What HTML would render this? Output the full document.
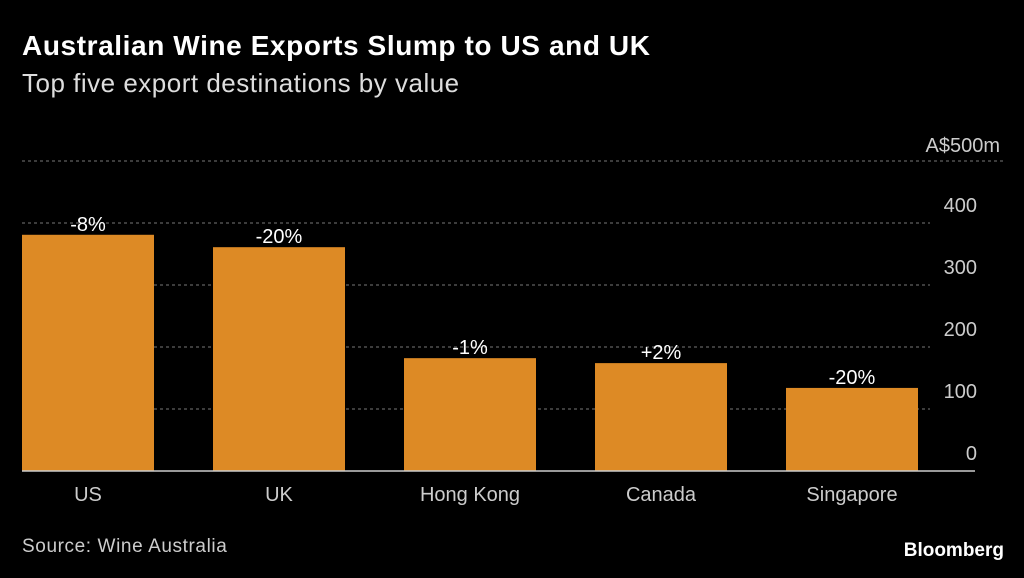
<!DOCTYPE html>
<html><head><meta charset="utf-8"><style>
body{margin:0;background:#000;width:1024px;height:578px;overflow:hidden;font-family:"Liberation Sans",sans-serif;color:#fff}
.t{position:absolute;left:22px;top:30px;font-size:28px;font-weight:bold;letter-spacing:0.6px}
.s{position:absolute;left:22px;top:68px;font-size:26px;color:#ddd;letter-spacing:0.5px}
.src{position:absolute;left:22px;top:536px;font-size:19px;color:#ccc;letter-spacing:0.6px}
.bb{position:absolute;right:20px;top:540px;font-size:19px;font-weight:bold}
</style></head><body>
<div class="t">Australian Wine Exports Slump to US and UK</div>
<div class="s">Top five export destinations by value</div>
<svg id="c" width="1024" height="578" style="position:absolute;left:0;top:0"></svg>
<div class="src">Source: Wine Australia</div>
<div class="bb">Bloomberg</div>
<script>
const categories=["US","UK","Hong Kong","Canada","Singapore"];
const values=[381,361,182,174,134];
const changes=["-8%","-20%","-1%","+2%","-20%"];
const ticks=[0,100,200,300,400,500];
const tickLabels=["0","100","200","300","400","A$500m"];
const svg=document.getElementById('c');
const NS="http://www.w3.org/2000/svg";
const y=v=>471-v*0.62;
const x=i=>22+i*191;
const bw=132;
function mk(t,a){const e=document.createElementNS(NS,t);for(const k in a)e.setAttribute(k,a[k]);svg.appendChild(e);return e;}
ticks.forEach((t,i)=>{
  if(t>0){const l=mk('line',{x1:22,x2:i==ticks.length-1?1003:930,y1:y(t),y2:y(t),stroke:'#777','stroke-dasharray':'3,3','stroke-width':1});
  
  }
  const tx=mk('text',{x:i==ticks.length-1?1000:977,y:i==ticks.length-1?y(t)-9:y(t)-11,'text-anchor':'end',fill:'#ccc','font-size':20,'font-family':'Liberation Sans'});
  tx.textContent=tickLabels[i];
  
  
});
values.forEach((v,i)=>{
  const r=mk('rect',{x:x(i),y:y(v),width:bw,height:471-y(v),fill:'#dd8a25'});
  
  
  const lb=mk('text',{x:x(i)+bw/2,y:y(v)-4,'text-anchor':'middle',fill:'#fff','font-size':20,'font-family':'Liberation Sans'});
  lb.textContent=changes[i];
  
  
  const c=mk('text',{x:x(i)+bw/2,y:501,'text-anchor':'middle',fill:'#ccc','font-size':20,'font-family':'Liberation Sans'});
  c.textContent=categories[i];
  
  
});
const ax=mk('line',{x1:22,x2:975,y1:471,y2:471,stroke:'#ccc','stroke-width':1.5});


</script>
</body></html>
